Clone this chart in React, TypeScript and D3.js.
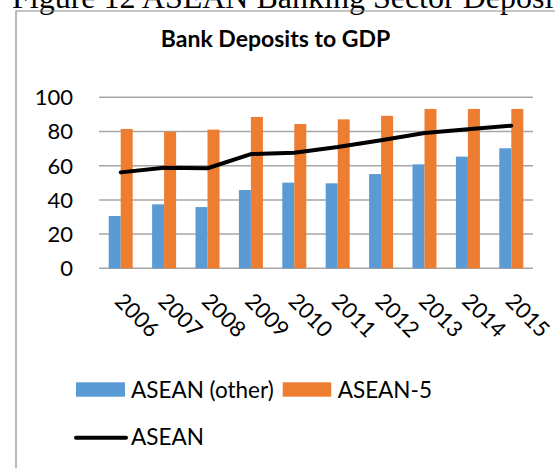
import React from "react";
import * as d3 from "d3";

const years = ["2006", "2007", "2008", "2009", "2010", "2011", "2012", "2013", "2014", "2015"];
const aseanOther = [30.6, 37.4, 35.8, 45.8, 50.1, 49.7, 55.1, 60.8, 65.3, 70.2];
const asean5 = [81.5, 79.9, 81.1, 88.5, 84.4, 87.1, 89.2, 93.2, 93.2, 93.2];
const asean = [56.1, 58.8, 58.5, 66.8, 67.6, 70.9, 74.9, 79.1, 81.3, 83.4];
const yTicks = [0, 20, 40, 60, 80, 100];
const seriesNames = ["ASEAN (other)", "ASEAN-5"];
const lineName = "ASEAN";

const W = 555;
const H = 468;
const plot = { left: 99, right: 533, top: 97.3, bottom: 268.3 };
const COLORS = { blue: "#5b9bd5", orange: "#ed7d31", grid: "#a6a6a6", line: "#000000" };
const FONT = "Lato, 'Open Sans', sans-serif";

export default function App() {
  const x0 = d3
    .scaleBand<string>()
    .domain(years)
    .range([plot.left, plot.right])
    .paddingInner(0.447)
    .paddingOuter(0.2235);
  const x1 = d3.scaleBand<number>().domain([0, 1]).range([0, x0.bandwidth()]);
  const y = d3.scaleLinear().domain([0, 100]).range([plot.bottom, plot.top]);
  const center = (yr: string) => (x0(yr) as number) + x0.bandwidth() / 2;

  const lineGen = d3
    .line<number>()
    .x((_, i) => center(years[i]))
    .y((d) => y(d));

  const groups = [aseanOther, asean5];
  const colors = [COLORS.blue, COLORS.orange];

  return (
    <svg
      width={W}
      height={H}
      style={{ position: "absolute", left: 0, top: 0, background: "#fff" }}
    >
      <rect x={0} y={0} width={W} height={H} fill="#fff" />
      <text
        x={12}
        y={7.5}
        fontFamily="'Liberation Serif', 'Times New Roman', serif"
        fontSize={32}
        fill="#000"
      >
        Figure 12 ASEAN Banking Sector Deposits
      </text>
      {/* frame */}
      <path d={`M16,${H} V11 H${W}`} fill="none" stroke="#8c8c8c" strokeWidth={1.2} />

      <text
        x={275.5}
        y={47}
        textAnchor="middle"
        fontFamily={FONT}
        fontWeight={700}
        fontSize={23}
        fill="#000"
      >
        Bank Deposits to GDP
      </text>

      {/* gridlines */}
      {yTicks.map((t) => (
        <line
          key={t}
          x1={plot.left}
          x2={plot.right}
          y1={y(t)}
          y2={y(t)}
          stroke={COLORS.grid}
          strokeWidth={1.5}
        />
      ))}
      {yTicks.map((t) => (
        <text
          key={"l" + t}
          x={73}
          y={y(t)}
          dy="0.36em"
          textAnchor="end"
          fontFamily={FONT}
          fontSize={22}
          fill="#000"
        >
          {t}
        </text>
      ))}

      {/* bars */}
      {groups.map((vals, s) =>
        vals.map((v, i) => (
          <rect
            key={`${s}-${i}`}
            x={(x0(years[i]) as number) + (x1(s) as number)}
            y={y(v)}
            width={x1.bandwidth()}
            height={y(0) - y(v)}
            fill={colors[s]}
          />
        ))
      )}

      {/* line */}
      <path
        d={lineGen(asean) || ""}
        fill="none"
        stroke={COLORS.line}
        strokeWidth={4}
        strokeLinejoin="round"
        strokeLinecap="round"
      />

      {/* x labels */}
      {years.map((yr) => {
        const cx = center(yr) - 1.5;
        const cy = 297;
        return (
          <text
            key={yr}
            transform={`translate(${cx},${cy}) rotate(45)`}
            dy="0.36em"
            textAnchor="start"
            fontFamily={FONT}
            fontSize={22}
            fill="#000"
          >
            {yr}
          </text>
        );
      })}

      {/* legend */}
      <rect x={76} y={382.3} width={49} height={14.4} fill={COLORS.blue} />
      <text x={131} y={389.5} dy="0.36em" fontFamily={FONT} fontSize={22.5} fill="#000">
        {seriesNames[0]}
      </text>
      <rect x={282.7} y={382.3} width={48.5} height={14.4} fill={COLORS.orange} />
      <text x={337.7} y={389.5} dy="0.36em" fontFamily={FONT} fontSize={22.5} fill="#000">
        {seriesNames[1]}
      </text>
      <line x1={76} x2={126} y1={437.7} y2={437.7} stroke={COLORS.line} strokeWidth={4} strokeLinecap="round" />
      <text x={131} y={436.7} dy="0.36em" fontFamily={FONT} fontSize={22.5} fill="#000">
        {lineName}
      </text>
    </svg>
  );
}
